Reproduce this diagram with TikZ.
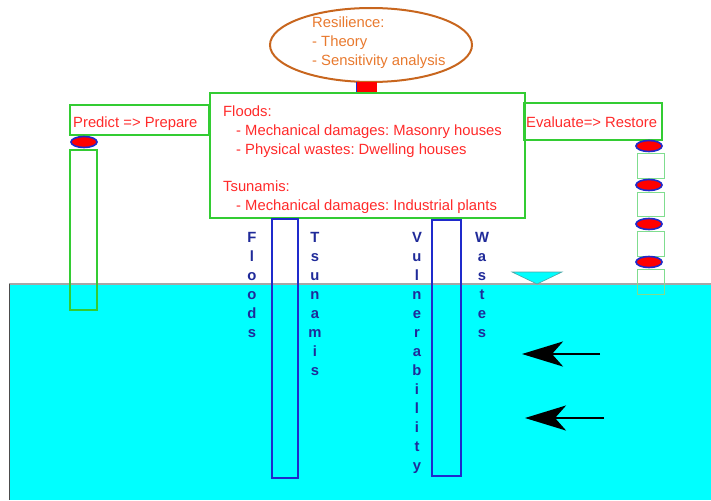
\documentclass[tikz,border=0pt]{standalone}
\usepackage{fontspec}
\setmainfont{Liberation Sans}
\usetikzlibrary{arrows.meta,shapes.geometric}
\definecolor{grn}{HTML}{33CC33}
\definecolor{lgrn}{HTML}{7FDD8F}
\definecolor{rtxt}{HTML}{FF2A2A}
\definecolor{navy}{HTML}{1F2A99}
\definecolor{colblue}{HTML}{1F2ACC}
\definecolor{brn}{HTML}{C8661E}
\definecolor{otxt}{HTML}{E8792E}
\definecolor{water}{HTML}{00FFFF}
\frenchspacing
\begin{document}
\begin{tikzpicture}[x=1pt,y=-1pt,
  gbox/.style={draw=grn,line width=2pt},
  sbox/.style={draw=lgrn,line width=1pt},
  col/.style={draw=colblue,line width=2pt},
  pin/.style={ellipse,draw=colblue,fill=red,line width=1.6pt,minimum width=26pt,minimum height=11pt,inner sep=0pt},
  rt/.style={text=rtxt,font=\fontsize{14.8}{19}\selectfont,inner sep=0pt,anchor=base west},
  ot/.style={text=otxt,font=\fontsize{14.8}{19}\selectfont,inner sep=0pt,anchor=base west},
  vt/.style={text=navy,font=\fontsize{14.8}{19}\selectfont\bfseries,inner sep=0pt,anchor=base},
  warrow/.style={line width=2.5pt,-{Stealth[length=41pt,width=25pt,inset=11pt]}}]
\useasboundingbox (0,0) rectangle (711,500);
% water
\fill[water] (9,284) rectangle (711,500);
\draw[gray!70,line width=1.2pt] (9,284) -- (711,284);
\draw[black!70,line width=1pt] (9,284) -- (9,500);
% resilience ellipse
\node[ellipse,draw=brn,line width=2pt,minimum width=202pt,minimum height=74pt,inner sep=0pt] (res) at (371,45) {};
\node[ot] (r1) at (312,28) {Resilience:};
\node[ot] (r2) at (312,47) {- Theory};
\node[ot] (r3) at (312,66) {- Sensitivity analysis};
% red connector
\fill[red] (356,82) rectangle (377,93);
\draw[colblue,line width=0.8pt] (356,82) -- (356,93);
% central box
\node[gbox,minimum width=315pt,minimum height=125pt,inner sep=0pt] (center) at (367.5,155.5) {};
\node[rt] (c1) at (223,117) {Floods:};
\node[rt] (c2) at (236,135) {- Mechanical damages: Masonry houses};
\node[rt] (c3) at (236,154) {- Physical wastes: Dwelling houses};
\node[rt] (c4) at (223,191) {Tsunamis:};
\node[rt] (c5) at (236,210) {- Mechanical damages: Industrial plants};
% left box
\node[gbox,minimum width=139pt,minimum height=30pt,inner sep=0pt] (pred) at (139.5,120) {};
\node[rt] (predtxt) at (73,128) {Predict => Prepare};
\node[pin] (lpin) at (84,142) {};
\draw[gbox] (70,150) rectangle (97,310);
% right box
\node[gbox,minimum width=138pt,minimum height=36pt,inner sep=0pt] (eval) at (593,121.5) {};
\node[rt] (evaltxt) at (526,128) {Evaluate=> Restore};
\foreach \y/\a/\b in {146/153/178,185/192/216,224/231/256,262/269/294}{
  \draw[sbox] (637,\a) rectangle (664,\b);
  \node[pin] at (649,\y) {};
}
% triangle
\draw[fill=water,draw=teal!70,line width=0.6pt] (512,272) -- (562,272) -- (537,284) -- cycle;
% columns
\draw[col] (272,219) rectangle (298,478);
\draw[col] (432,220) rectangle (461,476);
% vertical words
\foreach \c [count=\i from 0] in {F,l,o,o,d,s}
  \node[vt] (fl\i) at (252,242+19*\i) {\c};
\foreach \c [count=\i from 0] in {T,s,u,n,a,m,i,s}
  \node[vt] (ts\i) at (315,242+19*\i) {\c};
\foreach \c [count=\i from 0] in {V,u,l,n,e,r,a,b,i,l,i,t,y}
  \node[vt] (vu\i) at (417,242+19*\i) {\c};
\foreach \c [count=\i from 0] in {W,a,s,t,e,s}
  \node[vt] (wa\i) at (482,242+19*\i) {\c};
% arrows
\coordinate (a1s) at (600,354); \coordinate (a1e) at (522,354);
\coordinate (a2s) at (604,418); \coordinate (a2e) at (525,418);
\draw[warrow] (a1s) -- (a1e);
\draw[warrow] (a2s) -- (a2e);
\end{tikzpicture}
\end{document}
